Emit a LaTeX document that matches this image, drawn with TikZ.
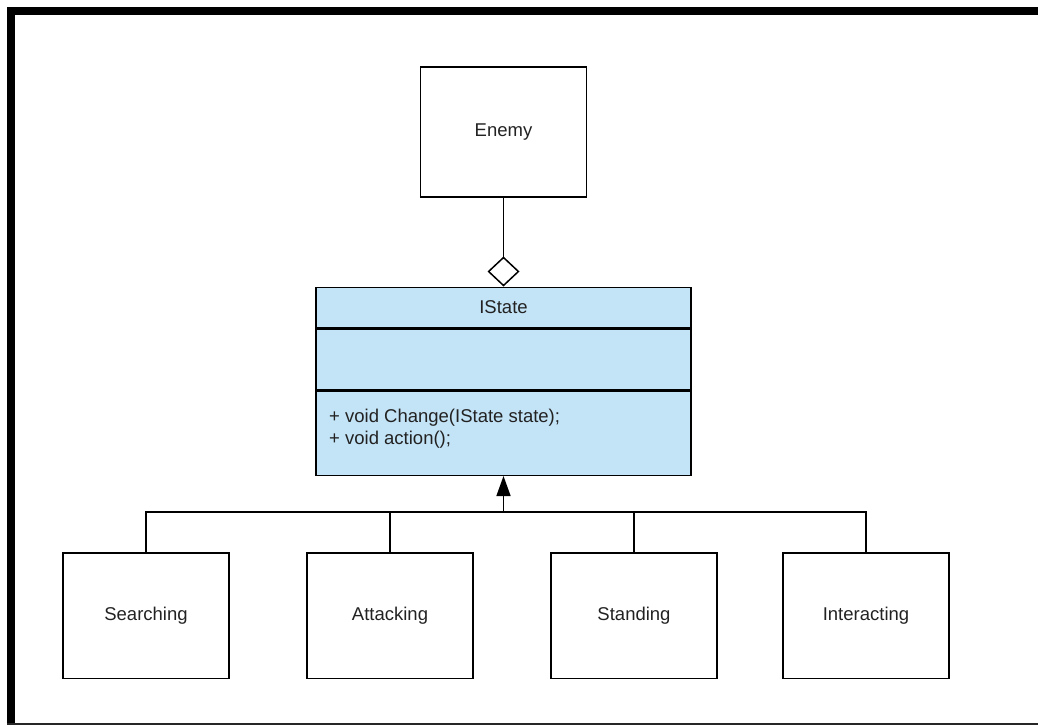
\documentclass[tikz,border=0pt]{standalone}
\usepackage{fontspec}
\setmainfont{Liberation Sans}
\usetikzlibrary{arrows.meta}
\definecolor{ifill}{RGB}{195,227,246}
\definecolor{txt}{RGB}{34,34,34}
\tikzset{
  umlbox/.style={draw=black, line width=1.5pt, minimum width=166pt, inner sep=0pt, text=txt,
    font=\fontsize{18.5}{22}\selectfont},
  ibox/.style={draw=black, line width=1.5pt, fill=ifill, minimum width=375pt, inner sep=0pt, text=txt,
    font=\fontsize{18.5}{22}\selectfont},
  conn/.style={draw=black, line width=1.5pt},
}
\begin{document}
\begin{tikzpicture}[x=1pt,y=-1pt]
\useasboundingbox (0,0) rectangle (1038,726);
% frame
\fill[black] (7,7) rectangle (15,725);
\fill[black] (7,7) rectangle (1038,15);
\fill[black!85] (7,722.5) rectangle (1038,725);
% Enemy
\node[umlbox, minimum height=130pt] (enemy) at (503.5,132) {Enemy};
% IState
\node[ibox, minimum height=40.5pt] (title) at (503.5,307.5) {IState};
\node[ibox, minimum height=60.5pt, anchor=north] (attr) at (title.south) {};
\node[ibox, minimum height=84pt, anchor=north] (ops) at (attr.south) {};
\node[anchor=west, align=left, inner sep=0pt, text=txt, font=\fontsize{18.5}{22}\selectfont] (opstext) at (329,429) {+ void Change(IState state);\\+ void action();};
% children
\node[umlbox, minimum height=125.5pt] (searching) at (146,615.5) {Searching};
\node[umlbox, minimum height=125.5pt] (attacking) at (390,615.5) {Attacking};
\node[umlbox, minimum height=125.5pt] (standing) at (634,615.5) {Standing};
\node[umlbox, minimum height=125.5pt] (interacting) at (866,615.5) {Interacting};
\coordinate (j) at (503.5,512);
% connectors
\draw[conn] (searching.north) |- (j);
\draw[conn] (attacking.north) |- (j);
\draw[conn] (standing.north) |- (j);
\draw[conn] (interacting.north) |- (j);
\draw[conn, -{Triangle[length=20pt,width=14pt]}] (j) -- (ops.south);
\draw[conn, {Diamond[open,length=30pt,width=32pt,fill=white]}-] (title.north) -- (enemy.south);
\end{tikzpicture}
\end{document}
